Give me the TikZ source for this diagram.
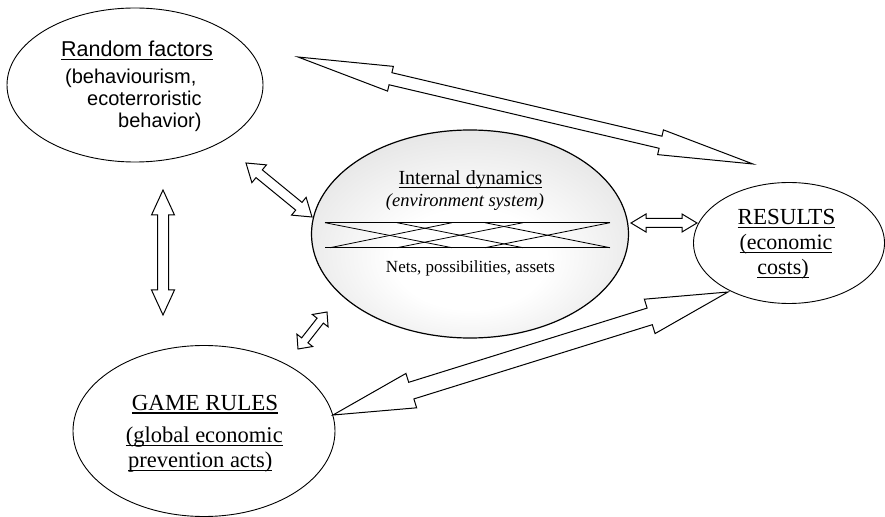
\documentclass[tikz,border=0pt]{standalone}
\usepackage{fontspec}
\setmainfont{Liberation Serif}
\newfontfamily\arialf{Liberation Sans}
\usetikzlibrary{shapes.geometric,calc}
\pgfdeclareradialshading{idshade}{\pgfpoint{0bp}{-8bp}}{color(0bp)=(white); color(12bp)=(white); color(50bp)=(black!22)}
\newcommand{\ulb}[2][3.5bp]{\setbox0\hbox{#2}\rlap{\rule[-#1]{\wd0}{1.1bp}}\box0}
\newcommand{\blockarr}[5]{%
  \draw[barrow] (#1)
  -- ($(#1)!#5!(#2)!#4!90:(#2)$)
  -- ($(#1)!#5!(#2)!#3!90:(#2)$)
  -- ($(#2)!#5!(#1)!#3!-90:(#1)$)
  -- ($(#2)!#5!(#1)!#4!-90:(#1)$)
  -- (#2)
  -- ($(#2)!#5!(#1)!#4!90:(#1)$)
  -- ($(#2)!#5!(#1)!#3!90:(#1)$)
  -- ($(#1)!#5!(#2)!#3!-90:(#2)$)
  -- ($(#1)!#5!(#2)!#4!-90:(#2)$)
  -- cycle;}
\begin{document}
\begin{tikzpicture}[x=1bp,y=-1bp,
  ell/.style={draw, ellipse, inner sep=0pt, line width=0.9bp},
  barrow/.style={draw, fill=white, line width=1bp, line join=miter},
  txt/.style={anchor=base, inner sep=0pt},
  txtw/.style={anchor=base west, inner sep=0pt},
  netline/.style={line width=0.8bp},
  netthick/.style={line width=1.6bp}]
\useasboundingbox (0,0) rectangle (885,517);

% ellipses
\node[ell, minimum width=256bp, minimum height=154bp] (rf) at (135,85) {};
\node[ell, shade, shading=idshade, line width=1.2bp, minimum width=317bp, minimum height=208bp] (idyn) at (470,234) {};
\node[ell, minimum width=191bp, minimum height=121bp] (res) at (789,243) {};
\node[ell, minimum width=262bp, minimum height=171bp] (gr) at (204,431) {};

% net lines inside internal dynamics
\draw[netline] (325,222.7) -- (610,222.7);
\draw[netline] (325,247.7) -- (610,247.7);
\draw[netthick] (397.5,222.7) -- (452,222.7);
\draw[netthick] (485,222.7) -- (523,222.7);
\draw[netthick] (397.5,247.7) -- (452,247.7);
\draw[netthick] (485,247.7) -- (523,247.7);
\draw[netline] (325,222.7) -- (452,247.7);
\draw[netline] (330,247.7) -- (452,222.7);
\draw[netline] (397,222.7) -- (523,247.7);
\draw[netline] (397,247.7) -- (523,222.7);
\draw[netline] (485,222.7) -- (610,247.7);
\draw[netline] (485,247.7) -- (610,222.7);

% arrow end points
\coordinate (a1s) at (298,57);   \coordinate (a1e) at (753,164);
\coordinate (a2s) at (246,163);  \coordinate (a2e) at (312,217);
\coordinate (a3s) at (631,223);  \coordinate (a3e) at (697,223);
\coordinate (a4s) at (163,190);  \coordinate (a4e) at (163,315);
\coordinate (a5s) at (327,312);  \coordinate (a5e) at (298,349);
\coordinate (a6s) at (728,292);  \coordinate (a6e) at (333,415);

\blockarr{a1s}{a1e}{6.2bp}{12.7bp}{95bp}
\blockarr{a2s}{a2e}{5bp}{11.5bp}{17bp}
\blockarr{a3s}{a3e}{4.5bp}{9bp}{15bp}
\blockarr{a4s}{a4e}{5.5bp}{11.5bp}{25bp}
\blockarr{a5s}{a5e}{4bp}{10bp}{11bp}
\blockarr{a6s}{a6e}{8.7bp}{18bp}{82bp}

% texts: random factors
\node[txt, font={\arialf\fontsize{21.5bp}{25bp}\selectfont}] (rft) at (137,57) {\ulb{Random factors}};
\node[txtw, font={\arialf\fontsize{20bp}{24bp}\selectfont}] (rf1) at (65,84) {(behaviourism,};
\node[txtw, font={\arialf\fontsize{20bp}{24bp}\selectfont}] (rf2) at (87,106) {ecoterroristic};
\node[txtw, font={\arialf\fontsize{20bp}{24bp}\selectfont}] (rf3) at (118,128) {behavior)};

% internal dynamics
\node[txt, font={\fontsize{20bp}{24bp}\selectfont}] (idt) at (470.5,185) {\ulb[3bp]{Internal dynamics}};
\node[txt, font={\itshape\fontsize{18.5bp}{22bp}\selectfont}] (ids) at (465,207) {(environment system)};
\node[txt, font={\fontsize{17bp}{20bp}\selectfont}] (idn) at (470.5,273) {Nets, possibilities, assets};

% results
\node[txt, font={\fontsize{23bp}{27bp}\selectfont}] (rt) at (786.5,225) {\ulb[3bp]{RESULTS}};
\node[txt, font={\fontsize{22bp}{26bp}\selectfont}] (r1) at (786,250) {\ulb[3bp]{(economic}};
\node[txt, font={\fontsize{22bp}{26bp}\selectfont}] (r2) at (783,275) {\ulb[3bp]{costs)}};

% game rules
\node[txt, font={\fontsize{23bp}{27bp}\selectfont}] (gt) at (205,410.5) {\ulb[3bp]{GAME RULES}};
\node[txt, font={\fontsize{22.5bp}{26bp}\selectfont}] (g1) at (204.3,442) {\ulb[4bp]{(global economic}};
\node[txt, font={\fontsize{22.5bp}{26bp}\selectfont}] (g2) at (200.3,467) {\ulb[4bp]{prevention acts)}};
\end{tikzpicture}
\end{document}
